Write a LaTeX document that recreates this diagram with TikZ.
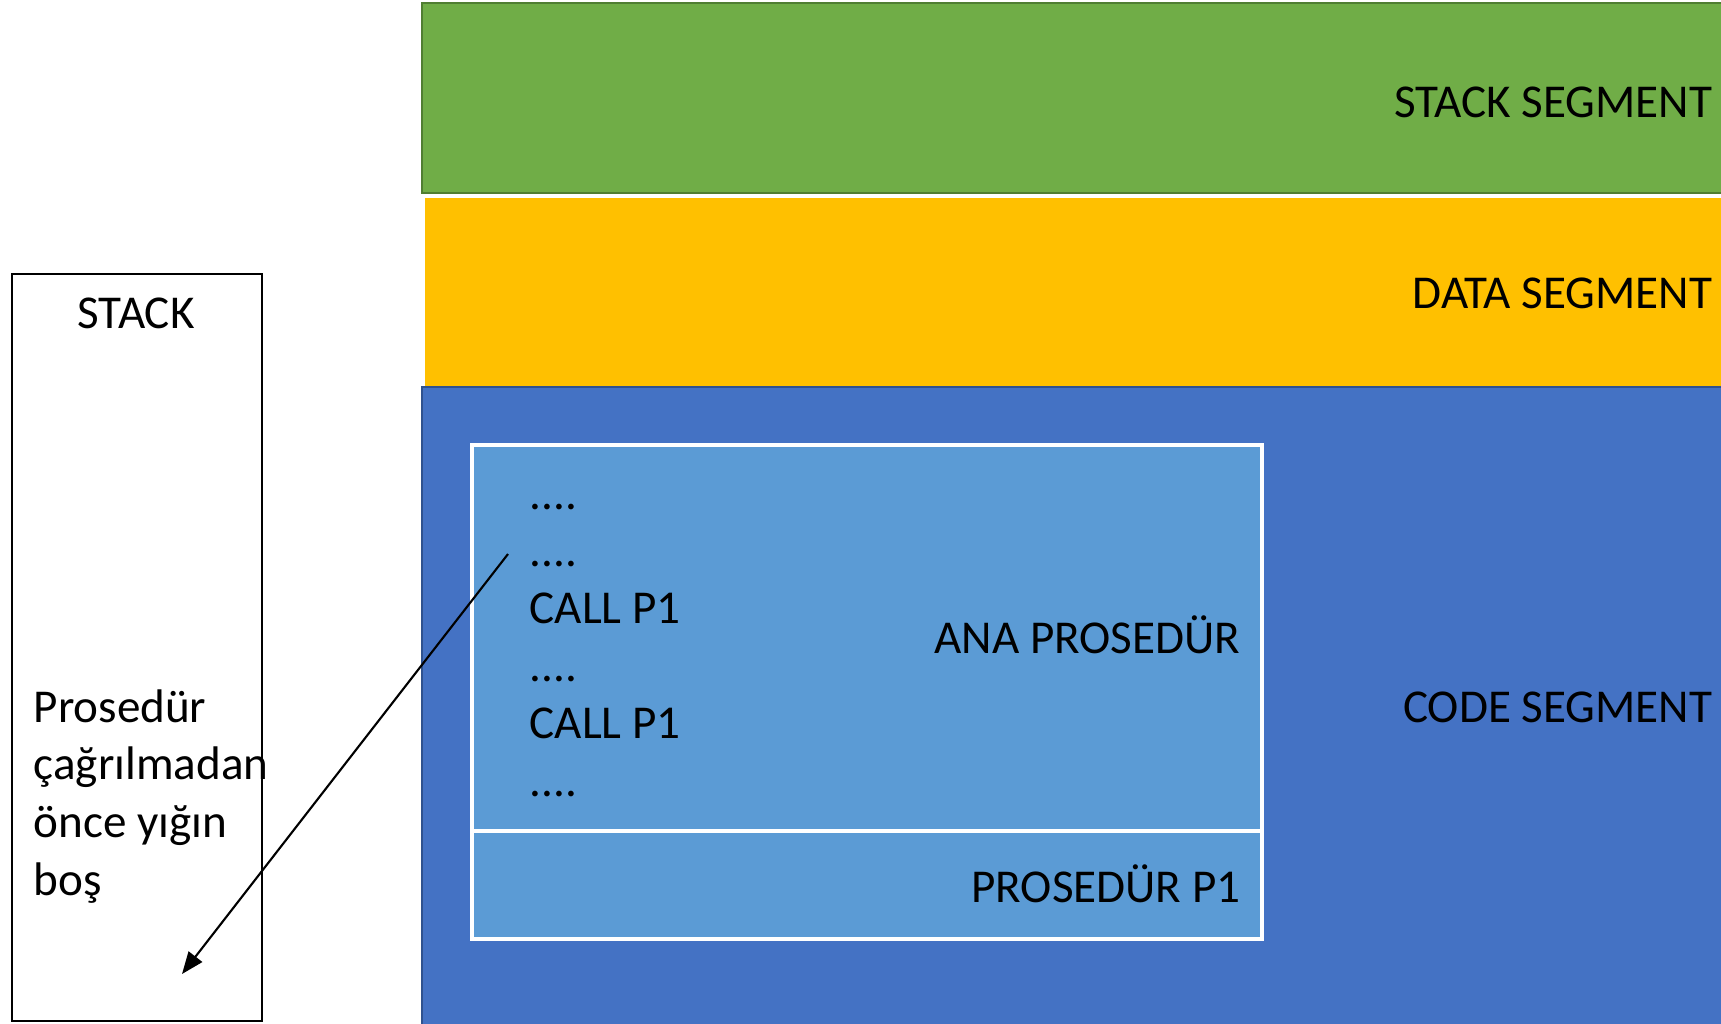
\documentclass[tikz,border=0pt]{standalone}
\usepackage{fontspec}
\setmainfont{Carlito}
\usetikzlibrary{positioning,arrows.meta}
\definecolor{segGreen}{HTML}{70AD47}
\definecolor{segGreenDark}{HTML}{507E32}
\definecolor{segGold}{HTML}{FFC000}
\definecolor{segBlue}{HTML}{4472C4}
\definecolor{segBlueDark}{HTML}{2F528F}
\definecolor{procBlue}{HTML}{5B9BD5}
\newcommand{\codegap}{....}

\begin{document}
\begin{tikzpicture}[x=0.01cm, y=-0.01cm,
    every node/.style={font=\fontsize{13.4}{16.4}\selectfont, inner sep=0pt},
    seglabel/.style={anchor=base east},
    procbox/.style={fill=procBlue, draw=white, line width=1.1pt},
    callarrow/.style={-{Triangle[length=2.2mm,width=1.7mm]}, line width=0.6pt}]
    \useasboundingbox (0,0) rectangle (1721,1023);

    % Segments
    \draw[fill=segGreen, draw=segGreenDark, line width=0.6pt] (422,3) rectangle (1730,193);
    \fill[segGold] (425,198) rectangle (1730,386);
    \draw[fill=segBlue, draw=segBlueDark, line width=0.6pt] (422,387) rectangle (1730,1030);
    \node[seglabel] (stackseg) at (1713,117) {STACK SEGMENT};
    \node[seglabel] (dataseg) at (1713,308) {DATA SEGMENT};
    \node[seglabel] (codeseg) at (1713,722) {CODE SEGMENT};

    % Procedures
    \draw[procbox] (472,445) rectangle (1262,831);
    \draw[procbox] (472,831) rectangle (1262,939);
    \node[seglabel] (mainproc) at (1241,653) {ANA PROSEDÜR};
    \node[seglabel] (procp1) at (1241,902) {PROSEDÜR P1};

    % Code lines
    \foreach \t [count=\i] in {\codegap,\codegap,CALL P1,\codegap,CALL P1,\codegap} {
        \node[anchor=base west] (code\i) at (529,{509+57.4*(\i-1)}) {\t};
    }

    % Stack
    \draw[line width=0.7pt] (12,274) rectangle (262,1021);
    \node[anchor=base] (stacklbl) at (136,328) {STACK};
    \node[anchor=base west, align=left] (stacknote) at (33,895)
        {Prosedür\\çağrılmadan\\önce yığın\\boş};

    % Call arrow
    \coordinate (callsrc) at (508,554);
    \coordinate (stackend) at (182,974);
    \draw[callarrow] (callsrc) -- (stackend);
\end{tikzpicture}
\end{document}
